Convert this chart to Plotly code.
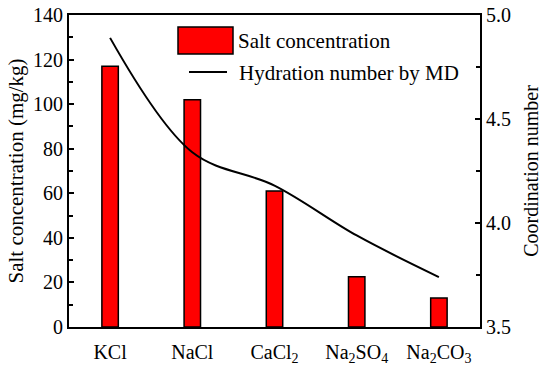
import plotly.graph_objects as go

categories = ["KCl", "NaCl", "CaCl<sub>2</sub>", "Na<sub>2</sub>SO<sub>4</sub>", "Na<sub>2</sub>CO<sub>3</sub>"]
salt_conc = [117, 102, 61, 22.5, 13]
hydration = [4.89, 4.34, 4.18, 3.94, 3.74]

FONT = "Liberation Serif"
fig = go.Figure()
fig.add_trace(go.Bar(x=categories, y=salt_conc, width=0.2,
                     marker=dict(color="#ff0000", line=dict(color="black", width=1.5)),
                     name="Salt concentration", showlegend=False))
fig.add_trace(go.Scatter(x=categories, y=hydration, yaxis="y2", mode="lines",
                         line=dict(color="black", width=2, shape="spline", smoothing=1),
                         name="Hydration number by MD", showlegend=False))

# manual legend
fig.add_shape(type="rect", xref="paper", yref="paper", x0=(178-69)/411, x1=(233-69)/411,
              y0=(327-54)/312, y1=(327-27)/312, fillcolor="#ff0000", line=dict(color="black", width=1.5))
fig.add_shape(type="line", xref="paper", yref="paper", x0=(189-69)/411, x1=(227-69)/411,
              y0=(327-72)/312, y1=(327-72)/312, line=dict(color="black", width=2))
fig.add_annotation(text="Salt concentration", xref="paper", yref="paper", x=(236-69)/411,
                   y=(327-41)/312, xanchor="left", yanchor="middle", showarrow=False,
                   font=dict(family=FONT, size=21, color="black"))
fig.add_annotation(text="Hydration number by MD", xref="paper", yref="paper", x=(237-69)/411,
                   y=(327-73)/312, xanchor="left", yanchor="middle", showarrow=False,
                   font=dict(family=FONT, size=21, color="black"))

fig.update_layout(
    width=550, height=371,
    margin=dict(l=69, r=70, t=15, b=44, autoexpand=False),
    plot_bgcolor="white", paper_bgcolor="white",
    font=dict(family=FONT, size=20, color="black"),
    bargap=0.8,
    xaxis=dict(showline=True, linecolor="black", linewidth=2, mirror=True, ticks="",
               range=[-0.5, 4.5], showgrid=False, tickfont=dict(family=FONT, size=20),
               automargin=False, ticklabelstandoff=6),
    yaxis=dict(range=[0, 140], dtick=20, showline=True, linecolor="black", linewidth=2,
               ticks="inside", ticklen=5, tickwidth=1.5, tickcolor="black", showgrid=False,
               zeroline=False, tickfont=dict(family=FONT, size=20), automargin=False,
               minor=dict(ticks="inside", dtick=10, ticklen=4, tickwidth=1.5, tickcolor="black"),
               title=dict(text="Salt concentration (mg/kg)", font=dict(family=FONT, size=21), standoff=4)),
    yaxis2=dict(range=[3.5, 5.0], dtick=0.5, tickformat=".1f", overlaying="y", side="right",
                showline=True, linecolor="black", linewidth=2, ticks="inside", ticklen=5,
                tickwidth=1.5, tickcolor="black", showgrid=False, zeroline=False,
                tickfont=dict(family=FONT, size=20), automargin=False,
                minor=dict(ticks="inside", dtick=0.25, ticklen=4, tickwidth=1.5, tickcolor="black"),
                title=dict(text="Coordination number", font=dict(family=FONT, size=20), standoff=14)),
)
fig.write_html("out.html", config={"displayModeBar": False},
               post_script="document.body.style.margin='0';document.body.style.overflow='hidden';")
